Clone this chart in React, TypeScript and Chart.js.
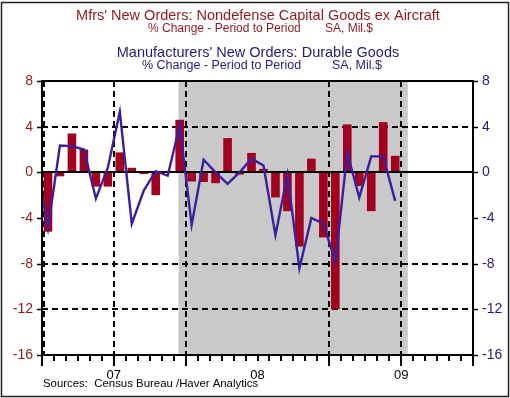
import React, { useEffect, useRef } from 'react';
import { Chart, registerables } from 'chart.js';

Chart.register(...registerables);

// Month index: 0 = Jan 2007 ... 35 = Dec 2009
const barMonths = Array.from({ length: 30 }, (_, i) => i);
const capGoodsExAircraft = [
  -5.2, -0.35, 3.4, 2.0, -1.25, -1.25, 1.75, 0.4, -0.15, -2.0, 0.05, 4.6,
  -0.8, -0.85, -0.95, 3.0, -0.2, 1.7, 0.3, -2.2, -3.4, -6.5, 1.2, -5.7,
  -12.0, 4.2, -1.2, -3.4, 4.4, 1.45,
];
const lineMonths = Array.from({ length: 31 }, (_, i) => i - 1);
const durableGoods = [
  1.0, -4.9, 2.35, 2.3, 2.0, -2.3, 0.4, 5.3, -4.5, -1.6, 0.1, -0.3, 4.1,
  -4.6, 1.1, 0.0, -1.0, 0.0, 1.2, 0.6, -5.5, -0.2, -8.4, -4.0, -4.5, -7.8,
  1.7, -2.2, 1.4, 1.4, -2.5,
];
const yearLabels = ['07', '08', '09'];
const yearLabelPos = [5.5, 17.5, 29.5];
const vGridPos = [-0.5, 5.5, 11.5, 23.5, 29.5];
const longTickPos = [-0.5, 5.5, 11.5, 23.5, 29.5, 35.5];
const hGridVals = [4, -8, -12];
const yTicks = [8, 4, 0, -4, -8, -12, -16];
const recession = [10.9, 30.05];

const RED = '#8e1a1f';
const NAVY = '#1e1e72';
const BAR = '#a3001f';
const LINE = '#3c1f9e';
const FONT = '"Liberation Sans", Arial, sans-serif';

const decor = {
  id: 'decor',
  beforeDatasetsDraw(chart: any) {
    const { ctx, chartArea: a, scales } = chart;
    const x = scales.x, y = scales.y;
    ctx.save();
    ctx.fillStyle = '#c9c9c9';
    const x0 = x.getPixelForValue(recession[0]);
    const x1 = x.getPixelForValue(recession[1]);
    ctx.fillRect(x0, a.top, x1 - x0, a.bottom - a.top);
    ctx.strokeStyle = '#000';
    ctx.lineWidth = 2;
    ctx.setLineDash([6, 4]);
    hGridVals.forEach((v) => {
      const py = Math.round(y.getPixelForValue(v));
      ctx.beginPath();
      ctx.moveTo(a.left, py);
      ctx.lineTo(a.right, py);
      ctx.stroke();
    });
    vGridPos.forEach((v) => {
      const px = Math.round(x.getPixelForValue(v)) + (v === -0.5 ? 2 : 0);
      ctx.beginPath();
      ctx.moveTo(px, a.top);
      ctx.lineTo(px, a.bottom);
      ctx.stroke();
    });
    ctx.restore();
  },
  afterDatasetDraw(chart: any, args: any) {
    if (args.meta.type !== 'bar') return;
    const { ctx, chartArea: a, scales } = chart;
    const py = Math.round(scales.y.getPixelForValue(0));
    ctx.save();
    ctx.strokeStyle = '#000';
    ctx.lineWidth = 2;
    ctx.beginPath();
    ctx.moveTo(a.left, py);
    ctx.lineTo(a.right, py);
    ctx.stroke();
    ctx.restore();
  },
  afterDraw(chart: any) {
    const { ctx, chartArea: a, scales } = chart;
    const x = scales.x, y = scales.y;
    ctx.save();
    // frame
    ctx.strokeStyle = '#000';
    ctx.lineWidth = 2;
    ctx.strokeRect(a.left, a.top, a.right - a.left, a.bottom - a.top);
    // y tick marks
    ctx.lineWidth = 1.5;
    yTicks.forEach((v) => {
      const py = Math.round(y.getPixelForValue(v)) + 0.5;
      ctx.beginPath();
      ctx.moveTo(a.left - 5, py);
      ctx.lineTo(a.left, py);
      ctx.moveTo(a.right, py);
      ctx.lineTo(a.right + 5, py);
      ctx.stroke();
    });
    // x tick marks
    ctx.lineWidth = 2;
    for (let m = -0.5; m <= 35.5; m += 1) {
      const px = Math.round(x.getPixelForValue(m));
      const long = longTickPos.includes(m);
      ctx.beginPath();
      ctx.moveTo(px, a.bottom);
      ctx.lineTo(px, a.bottom + (long ? 11 : 6));
      ctx.stroke();
    }
    // titles
    ctx.textAlign = 'center';
    ctx.textBaseline = 'middle';
    ctx.fillStyle = RED;
    ctx.font = `14.5px ${FONT}`;
    ctx.fillText("Mfrs' New Orders: Nondefense Capital Goods ex Aircraft", 258, 16);
    ctx.font = `12px ${FONT}`;
    ctx.textAlign = 'left';
    ctx.fillText('% Change - Period to Period', 148, 29);
    ctx.fillText('SA, Mil.$', 325, 29);
    ctx.fillStyle = NAVY;
    ctx.textAlign = 'center';
    ctx.font = `14.5px ${FONT}`;
    ctx.fillText("Manufacturers' New Orders: Durable Goods", 258, 53);
    ctx.font = `12.5px ${FONT}`;
    ctx.textAlign = 'left';
    ctx.fillText('% Change - Period to Period', 142, 66);
    ctx.fillText('SA, Mil.$', 332, 66);
    // sources
    ctx.fillStyle = '#000';
    ctx.font = `11.4px ${FONT}`;
    ctx.fillText('Sources:  Census Bureau /Haver Analytics', 43, 384);
    // outer border
    ctx.strokeStyle = '#222';
    ctx.lineWidth = 1.5;
    ctx.strokeRect(1.5, 2.5, 507, 394);
    ctx.restore();
  },
};

export default function App() {
  const ref = useRef<HTMLCanvasElement | null>(null);
  useEffect(() => {
    document.body.style.margin = '0';
    const canvas = ref.current!;
    const chart = new Chart(canvas, {
      type: 'bar',
      data: {
        datasets: [
          {
            type: 'line',
            label: 'Durable Goods',
            data: lineMonths.map((m, i) => ({ x: m, y: durableGoods[i] })),
            borderColor: LINE,
            borderWidth: 2.4,
            pointRadius: 0,
            tension: 0,
            yAxisID: 'y',
            order: 0,
          } as any,
          {
            type: 'bar',
            label: 'Nondefense Capital Goods ex Aircraft',
            data: barMonths.map((m, i) => ({ x: m, y: capGoodsExAircraft[i] })),
            backgroundColor: BAR,
            borderWidth: 0,
            barPercentage: 0.72,
            categoryPercentage: 1,
            yAxisID: 'y',
            order: 1,
          } as any,
        ],
      },
      options: {
        responsive: false,
        animation: false,
        devicePixelRatio: 1,
        layout: { padding: { top: 81, left: 0, right: 0, bottom: 0 } },
        plugins: { legend: { display: false }, tooltip: { enabled: false }, title: { display: false } },
        scales: {
          x: {
            type: 'linear',
            min: -0.5,
            max: 35.5,
            offset: false,
            grid: { display: false, drawTicks: false },
            border: { display: false },
            afterBuildTicks: (s: any) => {
              s.ticks = yearLabelPos.map((v) => ({ value: v }));
            },
            afterFit: (s: any) => {
              s.height = 43;
            },
            ticks: {
              autoSkip: false,
              maxRotation: 0,
              padding: 13,
              color: '#000',
              font: { family: FONT, size: 13 },
              callback: (v: any) => {
                const i = yearLabelPos.indexOf(Number(v));
                return i >= 0 ? yearLabels[i] : '';
              },
            },
          },
          y: {
            type: 'linear',
            position: 'left',
            min: -16,
            max: 8,
            grid: { display: false, drawTicks: false },
            border: { display: false },
            afterBuildTicks: (s: any) => {
              s.ticks = yTicks.map((v) => ({ value: v }));
            },
            afterFit: (s: any) => {
              s.width = 42;
            },
            ticks: {
              padding: 9,
              color: RED,
              font: { family: FONT, size: 14 },
            },
          },
          y2: {
            type: 'linear',
            position: 'right',
            min: -16,
            max: 8,
            grid: { display: false, drawTicks: false },
            border: { display: false },
            afterBuildTicks: (s: any) => {
              s.ticks = yTicks.map((v) => ({ value: v }));
            },
            afterFit: (s: any) => {
              s.width = 37;
            },
            ticks: {
              padding: 9,
              color: NAVY,
              font: { family: FONT, size: 14 },
            },
          },
        },
      },
      plugins: [decor],
    });
    return () => chart.destroy();
  }, []);
  return (
    <div style={{ width: 510, height: 398 }}>
      <canvas ref={ref} width={510} height={398} style={{ display: 'block' }} />
    </div>
  );
}
